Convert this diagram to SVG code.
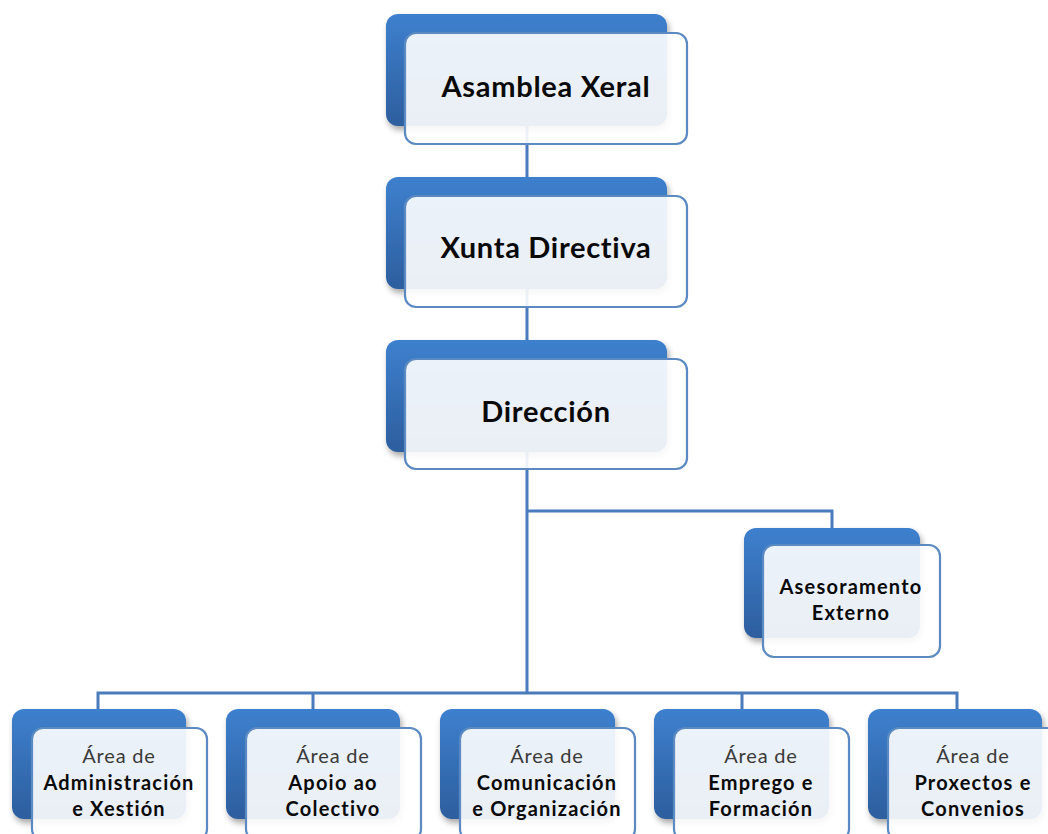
<svg xmlns="http://www.w3.org/2000/svg" width="1048" height="834" viewBox="0 0 1048 834">
<defs>
<linearGradient id="bg" x1="0" y1="0" x2="0" y2="1">
<stop offset="0" stop-color="#3e80ce"/>
<stop offset="1" stop-color="#2d5e9e"/>
</linearGradient>
<filter id="sh" x="-10%" y="-10%" width="125%" height="130%">
<feGaussianBlur in="SourceAlpha" stdDeviation="3"/>
<feOffset dx="2" dy="4" result="b"/>
<feComponentTransfer><feFuncA type="linear" slope="0.35"/></feComponentTransfer>
<feMerge><feMergeNode/><feMergeNode in="SourceGraphic"/></feMerge>
</filter>
</defs>
<style>
.back{fill:url(#bg);filter:url(#sh)}
.front{fill:#ffffff;fill-opacity:0.9;stroke:#5b89c2;stroke-width:2.2}
.conn{fill:none;stroke:#4a7bbd;stroke-width:3}
.t1{font-family:Lato,"Open Sans",sans-serif;font-weight:bold;font-size:29px;fill:#0a0a0a;text-anchor:middle;letter-spacing:0.7px}
.t2{font-family:Lato,"Open Sans",sans-serif;font-weight:bold;font-size:20px;fill:#0a0a0a;text-anchor:middle;letter-spacing:1.2px}
.t3{font-family:Lato,"Open Sans",sans-serif;font-weight:normal;font-size:20px;fill:#3a3a3a;text-anchor:middle;letter-spacing:0.8px}
</style>
<g id="connectors">
<path class="conn" d="M527 110 V693"/>
<path class="conn" d="M527 511 H832 V530"/>
<path class="conn" d="M98 711 V693 H957 V711 M313 693 V711 M742 693 V711"/>
</g>
<g id="asamblea">
<rect class="back" x="386" y="14" width="281" height="112" rx="12"/>
<rect class="front" x="405" y="33" width="282" height="111" rx="11"/>
<text class="t1" x="546" y="97">Asamblea Xeral</text>
</g>
<g id="xunta">
<rect class="back" x="386" y="177" width="281" height="112" rx="12"/>
<rect class="front" x="405" y="196" width="282" height="111" rx="11"/>
<text class="t1" x="546" y="258">Xunta Directiva</text>
</g>
<g id="direccion">
<rect class="back" x="386" y="340" width="281" height="112" rx="12"/>
<rect class="front" x="405" y="359" width="282" height="110" rx="11"/>
<text class="t1" x="546" y="422">Dirección</text>
</g>
<g id="asesoramento">
<rect class="back" x="744" y="528" width="176" height="110" rx="12"/>
<rect class="front" x="763" y="545" width="177" height="112" rx="11"/>
<text class="t2" x="851" y="594">Asesoramento</text>
<text class="t2" x="851" y="620">Externo</text>
</g>
<g id="area-administracion">
<rect class="back" x="12" y="709" width="174" height="110" rx="12"/>
<rect class="front" x="32" y="728" width="175" height="112" rx="11"/>
<text class="t3" x="119" y="763">Área de</text>
<text class="t2" x="119" y="790">Administración</text>
<text class="t2" x="119" y="816">e Xestión</text>
</g>
<g id="area-apoio">
<rect class="back" x="226" y="709" width="174" height="110" rx="12"/>
<rect class="front" x="246" y="728" width="175" height="112" rx="11"/>
<text class="t3" x="333" y="763">Área de</text>
<text class="t2" x="333" y="790">Apoio ao</text>
<text class="t2" x="333" y="816">Colectivo</text>
</g>
<g id="area-comunicacion">
<rect class="back" x="440" y="709" width="175" height="110" rx="12"/>
<rect class="front" x="460" y="728" width="175" height="112" rx="11"/>
<text class="t3" x="547" y="763">Área de</text>
<text class="t2" x="547" y="790">Comunicación</text>
<text class="t2" x="547" y="816">e Organización</text>
</g>
<g id="area-emprego">
<rect class="back" x="654" y="709" width="175" height="110" rx="12"/>
<rect class="front" x="674" y="728" width="175" height="112" rx="11"/>
<text class="t3" x="761" y="763">Área de</text>
<text class="t2" x="761" y="790">Emprego e</text>
<text class="t2" x="761" y="816">Formación</text>
</g>
<g id="area-proxectos">
<rect class="back" x="868" y="709" width="174" height="110" rx="12"/>
<rect class="front" x="888" y="728" width="175" height="112" rx="11"/>
<text class="t3" x="973" y="763">Área de</text>
<text class="t2" x="973" y="790">Proxectos e</text>
<text class="t2" x="973" y="816">Convenios</text>
</g>
</svg>
